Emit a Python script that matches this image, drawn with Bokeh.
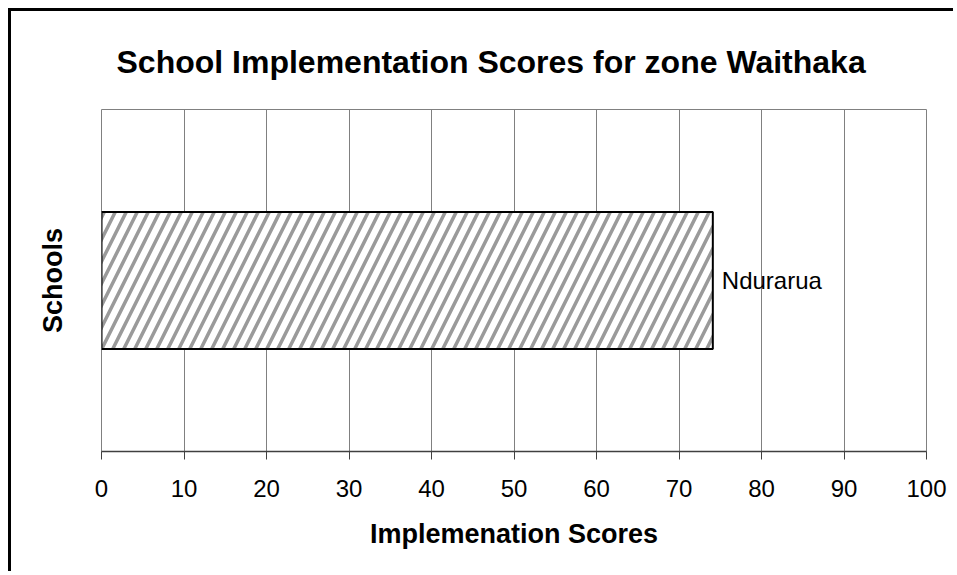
from bokeh.plotting import figure
from bokeh.models import FixedTicker, Range1d, Title, ColumnDataSource
from bokeh.core.properties import value
from bokeh.embed import file_html
from bokeh.resources import INLINE

# ---- data ----
schools = ["Ndurarua"]
scores = [74.1]
x_ticks = [0, 10, 20, 30, 40, 50, 60, 70, 80, 90, 100]
title_text = "School Implementation Scores for zone Waithaka"
x_label = "Implemenation Scores"
y_label = "Schools"

FONT = "Liberation Sans"

# category slots (one per school), positioned by index like a categorical axis
positions = list(range(len(schools)))
src = ColumnDataSource(dict(pos=positions, school=schools, score=scores))

p = figure(
    width=945, height=563,
    y_range=Range1d(-0.5, len(schools) - 0.5),
    x_range=Range1d(0, 100),
    output_backend="svg", toolbar_location=None,
    min_border_left=90, min_border_right=30, min_border_top=98, min_border_bottom=123,
)
p.styles = {"border-top": "3px solid black", "border-left": "3px solid black",
            "margin-left": "8px", "margin-top": "8px"}

t = Title(text=title_text, align="left", offset=15, standoff=59,
          text_font=FONT, text_font_size="32px", text_font_style="bold",
          text_color="black")
p.add_layout(t, "above")

p.hbar(y="pos", right="score", left=0, height=0.4, source=src,
       fill_color="white", line_color="black", line_width=2,
       hatch_pattern="/", hatch_color="#9a9a9a", hatch_weight=3.5, hatch_scale=22)

p.text(x="score", y="pos", text="school", x_offset=9, source=src,
       text_baseline="middle", text_align="left",
       text_font=value(FONT), text_font_size="24px", text_color="black")

# x axis
xa = p.xaxis[0]
xa.ticker = FixedTicker(ticks=x_ticks)
xa.axis_line_color = "#404040"
xa.axis_line_width = 1.5
xa.major_tick_line_color = "#404040"
xa.major_tick_out = 8
xa.major_tick_in = 0
xa.minor_tick_line_color = None
xa.major_label_text_font = FONT
xa.major_label_text_font_size = "24px"
xa.major_label_text_color = "black"
xa.major_label_standoff = 20
xa.axis_label = x_label
xa.axis_label_text_font = FONT
xa.axis_label_text_font_size = "27px"
xa.axis_label_text_font_style = "bold"
xa.axis_label_text_color = "black"
xa.axis_label_standoff = 19

# y axis: label only, no ticks
ya = p.yaxis[0]
ya.ticker = FixedTicker(ticks=[])
ya.axis_label = y_label
ya.axis_label_text_font = FONT
ya.axis_label_text_font_size = "27px"
ya.axis_label_text_font_style = "bold"
ya.axis_label_text_color = "black"
ya.axis_line_color = None
ya.major_tick_line_color = None
ya.minor_tick_line_color = None
ya.axis_label_standoff = 34

p.xgrid.grid_line_color = "#808080"
p.xgrid.grid_line_width = 1
p.ygrid.grid_line_color = None
p.outline_line_color = "#808080"
p.outline_line_width = 1
p.background_fill_color = "white"
p.border_fill_color = "white"

open("out.html", "w").write(file_html(p, INLINE))
